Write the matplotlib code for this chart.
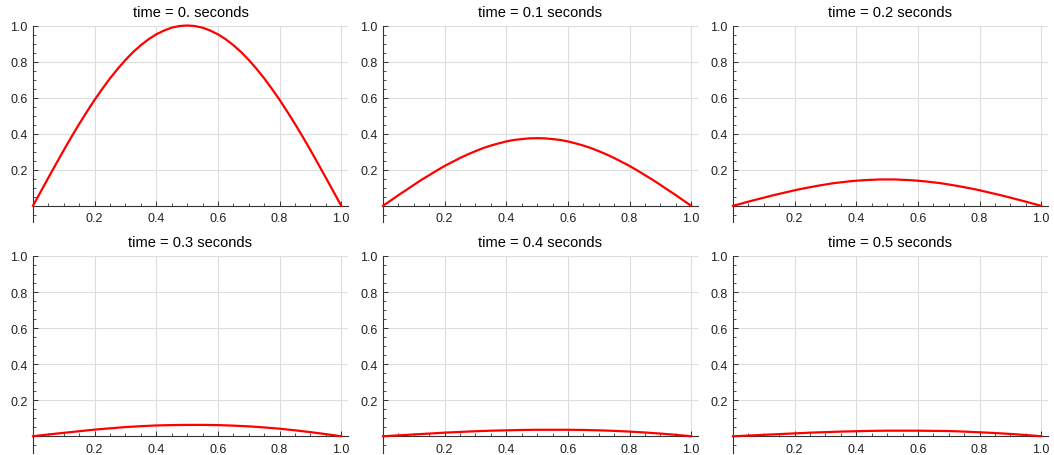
import numpy as np
import matplotlib.pyplot as plt
from matplotlib.ticker import FixedLocator, MultipleLocator

plt.rcParams['font.family'] = ['Liberation Sans', 'DejaVu Sans']

# positions along the rod (fine grid for the taller curves)
x_fine = [0.000, 0.025, 0.050, 0.075, 0.100, 0.125, 0.150, 0.175, 0.200, 0.225,
          0.250, 0.275, 0.300, 0.325, 0.350, 0.375, 0.400, 0.425, 0.450, 0.475,
          0.500, 0.525, 0.550, 0.575, 0.600, 0.625, 0.650, 0.675, 0.700, 0.725,
          0.750, 0.775, 0.800, 0.825, 0.850, 0.875, 0.900, 0.925, 0.950, 0.975,
          1.000]
x_coarse = [0.00, 0.05, 0.10, 0.15, 0.20, 0.25, 0.30, 0.35, 0.40, 0.45, 0.50,
            0.55, 0.60, 0.65, 0.70, 0.75, 0.80, 0.85, 0.90, 0.95, 1.00]

times = ['0.', '0.1', '0.2', '0.3', '0.4', '0.5']

# values
u_t0 = [0, 0.078, 0.156, 0.233, 0.309, 0.383, 0.454, 0.522, 0.588, 0.649,
        0.707, 0.760, 0.809, 0.853, 0.891, 0.924, 0.951, 0.972, 0.988, 0.997,
        1.0,
        0.997, 0.988, 0.972, 0.951, 0.924, 0.891, 0.853, 0.809, 0.760, 0.707,
        0.649, 0.588, 0.522, 0.454, 0.383, 0.309, 0.233, 0.156, 0.078, 0]
u_t1 = [0, 0.029, 0.059, 0.087, 0.116, 0.144, 0.170, 0.196, 0.221, 0.243,
        0.265, 0.285, 0.303, 0.320, 0.334, 0.346, 0.357, 0.365, 0.370, 0.374,
        0.375,
        0.374, 0.370, 0.365, 0.357, 0.346, 0.334, 0.320, 0.303, 0.285, 0.265,
        0.243, 0.221, 0.196, 0.170, 0.144, 0.116, 0.087, 0.059, 0.029, 0]
u_t2 = [0, 0.011, 0.023, 0.034, 0.045, 0.056, 0.066, 0.076, 0.086, 0.095,
        0.103, 0.111, 0.118, 0.125, 0.130, 0.135, 0.139, 0.142, 0.144, 0.146,
        0.146,
        0.146, 0.144, 0.142, 0.139, 0.135, 0.130, 0.125, 0.118, 0.111, 0.103,
        0.095, 0.086, 0.076, 0.066, 0.056, 0.045, 0.034, 0.023, 0.011, 0]
u_t3 = [0, 0.010, 0.019, 0.028, 0.037, 0.044, 0.051, 0.056, 0.060, 0.062, 0.063,
        0.063, 0.062, 0.059, 0.055, 0.049, 0.042, 0.033, 0.023, 0.012, 0]
u_t4 = [0, 0.005, 0.010, 0.015, 0.020, 0.024, 0.028, 0.031, 0.033, 0.035, 0.036,
        0.036, 0.036, 0.035, 0.033, 0.030, 0.026, 0.021, 0.015, 0.008, 0]
u_t5 = [0, 0.004, 0.008, 0.012, 0.016, 0.020, 0.023, 0.026, 0.028, 0.030, 0.031,
        0.031, 0.031, 0.030, 0.029, 0.026, 0.022, 0.018, 0.013, 0.007, 0]
series = [(x_fine, u_t0), (x_fine, u_t1), (x_fine, u_t2),
          (x_coarse, u_t3), (x_coarse, u_t4), (x_coarse, u_t5)]

ticks = [0.2, 0.4, 0.6, 0.8, 1.0]
tick_labels = ['0.2', '0.4', '0.6', '0.8', '1.0']

W, H = 1054, 456
fig = plt.figure(figsize=(W / 100, H / 100), dpi=100)

lefts = [33, 383, 733]
tops = [26.5, 257]
aw = 315
ah = 196.5

for i, (t, (xs, u)) in enumerate(zip(times, series)):
    r, c = divmod(i, 3)
    ax = fig.add_axes([lefts[c] / W, 1 - (tops[r] + ah) / H, aw / W, ah / H])
    ax.set_xlim(0, 1.022)
    ax.set_ylim(-0.09, 1.0)

    # grid: vertical lines stop at the x axis
    ax.vlines(ticks, 0, 1.0, color='#dddddd', lw=0.8, zorder=0)
    for gy in ticks:
        ax.axhline(gy, color='#dddddd', lw=0.8, zorder=0)

    ax.plot(xs, u, color='red', lw=1.6, zorder=3, clip_on=False)

    for s in ['top', 'right']:
        ax.spines[s].set_visible(False)
    ax.spines['left'].set_position(('data', 0))
    ax.spines['bottom'].set_position(('data', 0))
    for s in ['left', 'bottom']:
        ax.spines[s].set_color('#333333')
        ax.spines[s].set_linewidth(0.8)

    ax.xaxis.set_major_locator(FixedLocator(ticks))
    ax.yaxis.set_major_locator(FixedLocator(ticks))
    ax.set_xticklabels(tick_labels)
    ax.set_yticklabels(tick_labels)
    ax.xaxis.set_minor_locator(MultipleLocator(0.05))
    ax.yaxis.set_minor_locator(MultipleLocator(0.05))
    ax.tick_params(which='major', direction='in', length=3.5, width=0.7,
                   color='#333333', labelsize=9, labelcolor='#222222')
    ax.tick_params(which='minor', direction='in', length=2, width=0.6,
                   color='#333333')
    ax.tick_params(axis='x', which='major', pad=4.5)
    ax.tick_params(axis='y', which='major', pad=4)
    ax.patch.set_alpha(0)

    ax.set_title(f'time = {t} seconds', fontsize=10.5, pad=7)

fig.savefig('out.png', dpi=100)
